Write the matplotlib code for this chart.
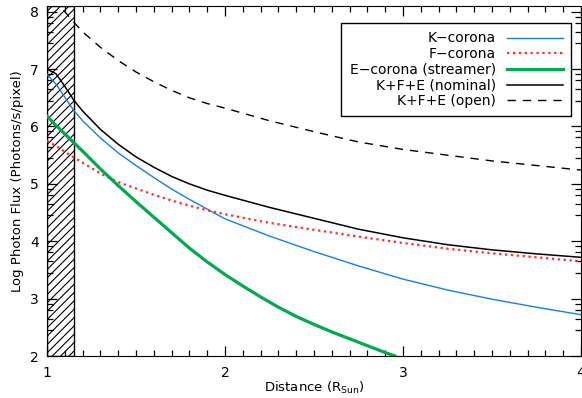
import numpy as np
import matplotlib
matplotlib.use("Agg")
import matplotlib.pyplot as plt
from matplotlib.ticker import FixedLocator, MultipleLocator

# distances (R_sun) and log photon flux
dist = [1.0, 1.05, 1.1, 1.15, 1.2, 1.3, 1.4, 1.5, 1.6, 1.7, 1.8, 1.9, 2.0, 2.25,
        2.5, 2.75, 3.0, 3.25, 3.5, 3.75, 4.0]
k_corona = [6.91, 6.74, 6.51, 6.28, 6.10, 5.80, 5.54, 5.32, 5.11, 4.91, 4.73, 4.56, 4.39, 4.09,
            3.82, 3.57, 3.34, 3.15, 2.99, 2.85, 2.72]
f_corona = [5.75, 5.66, 5.56, 5.46, 5.37, 5.18, 5.03, 4.92, 4.81, 4.71, 4.62, 4.54, 4.47, 4.32,
            4.20, 4.08, 3.97, 3.87, 3.79, 3.72, 3.65]
nominal = [7.0, 6.92, 6.70, 6.46, 6.27, 5.95, 5.69, 5.47, 5.29, 5.13, 5.00, 4.89, 4.80, 4.59,
           4.40, 4.21, 4.06, 3.94, 3.85, 3.78, 3.72]
open_sum = [8.35, 8.17, 8.0, 7.82, 7.65, 7.38, 7.15, 6.95, 6.78, 6.63, 6.50, 6.40, 6.32, 6.10,
            5.91, 5.73, 5.60, 5.50, 5.40, 5.32, 5.24]

e_dist = [1.0, 1.05, 1.1, 1.15, 1.2, 1.3, 1.4, 1.5, 1.6, 1.7, 1.8, 1.9, 2.0, 2.1, 2.2,
          2.3, 2.4, 2.5, 2.6, 2.7, 2.8, 2.9, 2.955]
e_corona = [6.18, 6.02, 5.87, 5.72, 5.57, 5.26, 4.97, 4.69, 4.42, 4.15, 3.88, 3.64, 3.42, 3.22,
            3.03, 2.85, 2.69, 2.55, 2.42, 2.30, 2.18, 2.06, 2.0]

occulter = 1.15
minor_offsets = [0.45, 0.65, 0.81, 0.913]

plt.rcParams['hatch.linewidth'] = 0.8
fig = plt.figure(figsize=(5.82, 3.98), dpi=100)
ax = fig.add_axes([47/582, 42/398, 534/582, 350/398])

ax.axvspan(1.0, occulter, facecolor='none', edgecolor='black', hatch='////', lw=1.0, zorder=1)

ax.plot(dist, k_corona, color='#1b7fd2', lw=1.0, label='K\u2212corona', zorder=3)
ax.plot(dist, f_corona, color='#ff2a2a', lw=1.6, ls=':', label='F\u2212corona', zorder=3)
ax.plot(e_dist, e_corona, color='#00a850', lw=2.3, label='E\u2212corona (streamer)', zorder=3)
ax.plot(dist, nominal, color='black', lw=1.1, label='K+F+E (nominal)', zorder=3)
ax.plot(dist, open_sum, color='black', lw=1.0, dashes=(6, 5), label='K+F+E (open)', zorder=3)

ax.set_xlim(1, 4)
ax.set_ylim(2, 8.1)
ax.xaxis.set_major_locator(FixedLocator([1, 2, 3, 4]))
ax.xaxis.set_minor_locator(MultipleLocator(0.1))
ax.yaxis.set_major_locator(FixedLocator([2, 3, 4, 5, 6, 7, 8]))
ax.yaxis.set_minor_locator(FixedLocator([n + o for n in range(2, 9) for o in minor_offsets]))
ax.tick_params(which='both', direction='in', top=True, right=True, width=0.9, labelsize=10)
ax.tick_params(which='major', length=7)
ax.tick_params(which='minor', length=4)
ax.tick_params(axis='x', pad=7)
ax.tick_params(axis='y', pad=6)

ax.set_xlabel('Distance (R$_{\\mathregular{Sun}}$)', fontsize=9.5, labelpad=0)
ax.set_ylabel('Log Photon Flux (Photons/s/pixel)', fontsize=9.5, labelpad=4)

leg = ax.legend(loc='upper right', bbox_to_anchor=(0.981, 0.951), borderaxespad=0,
                markerfirst=False, fancybox=False, edgecolor='black', framealpha=1,
                fontsize=10, handlelength=4.0, labelspacing=0.12, borderpad=0.6)
leg.get_frame().set_linewidth(1.0)

fig.savefig('out.png', dpi=100)
